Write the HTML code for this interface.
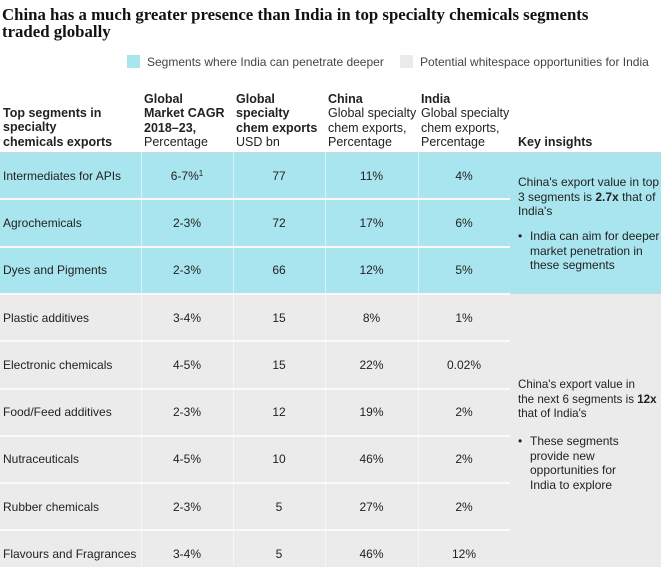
<!DOCTYPE html>
<html><head><meta charset="utf-8"><style>
body{margin:0;width:661px;height:566px;background:#fff;position:relative;overflow:hidden;font-family:"Liberation Sans",sans-serif;color:#222}
.a{position:absolute;white-space:nowrap}
.title{font-family:"Liberation Serif",serif;font-size:16.8px;font-weight:bold;line-height:17px;color:#111}
.hd{font-size:12.5px;line-height:14.3px}
.hd b{font-weight:bold}
.cell{font-size:12px;line-height:14px}
.ins{font-size:12px;line-height:14.6px;white-space:normal;width:138px}
sup{font-size:8px;line-height:0;vertical-align:4px}
</style></head><body>
<div class="a title" style="left:2px;top:6px">China has a much greater presence than India in top specialty chemicals segments<br>traded globally</div>
<div class="a" style="left:127px;top:55px;width:13px;height:13px;background:#a9e5ee"></div>
<div class="a cell" style="left:147px;top:55px;color:#444">Segments where India can penetrate deeper</div>
<div class="a" style="left:400px;top:55px;width:13px;height:13px;background:#ebebeb"></div>
<div class="a cell" style="left:420px;top:55px;color:#444">Potential whitespace opportunities for India</div>

<div class="a hd" style="left:3px;top:106px"><b>Top segments in<br>specialty<br>chemicals exports</b></div>
<div class="a hd" style="left:144px;top:92px"><b>Global<br>Market CAGR<br>2018–23,</b><br>Percentage</div>
<div class="a hd" style="left:236px;top:92px"><b>Global<br>specialty<br>chem exports</b><br>USD bn</div>
<div class="a hd" style="left:328px;top:92px"><b>China</b><br>Global specialty<br>chem exports,<br>Percentage</div>
<div class="a hd" style="left:421px;top:92px"><b>India</b><br>Global specialty<br>chem exports,<br>Percentage</div>
<div class="a hd" style="left:518px;top:135px"><b>Key insights</b></div>

<div class="a" style="left:0;top:152px;width:661px;height:141px;background:#a9e5ee;border-top:1px solid #c9d6d8"></div>
<div class="a" style="left:0;top:293px;width:661px;height:273px;background:#ebebeb;border-top:1px solid #cfd8da"></div>
<div id="tbl"></div>

<div class="a ins" style="left:518px;top:175px;width:143px">China's export value in top 3 segments is <b>2.7x</b> that of India's</div>
<div class="a ins" style="left:518px;top:229px;width:143px"><span style="position:absolute;left:0">•</span><div style="margin-left:12px">India can aim for deeper market penetration in these segments</div></div>
<div class="a ins" style="left:518px;top:378px;width:150px;white-space:nowrap;font-size:11.6px">China's export value in<br>the next 6 segments is <b>12x</b><br>that of India's</div>
<div class="a ins" style="left:518px;top:434px;width:143px"><span style="position:absolute;left:0">•</span><div style="margin-left:12px;width:104px">These segments provide new opportunities for India to explore</div></div>

<script>
const segments=["Intermediates for APIs","Agrochemicals","Dyes and Pigments","Plastic additives","Electronic chemicals","Food/Feed additives","Nutraceuticals","Rubber chemicals","Flavours and Fragrances"];
const cagr=["6-7%¹","2-3%","2-3%","3-4%","4-5%","2-3%","4-5%","2-3%","3-4%"];
const exportsBn=[77,72,66,15,15,12,10,5,5];
const chinaShare=["11%","17%","12%","8%","22%","19%","46%","27%","46%"];
const indiaShare=["4%","6%","5%","1%","0.02%","2%","2%","2%","12%"];
const tableTop=152,rh=47.3;
const colB=[0,141,233,325,418,510];
const names=['segment','cagr','exports','china','india'];
const t=document.getElementById('tbl');
for(let i=1;i<5;i++){const v=document.createElement('div');v.className='a';


v.style.cssText=`left:${colB[i]}px;top:${tableTop}px;width:1px;height:${566-tableTop}px;background:rgba(255,255,255,0.55)`;t.appendChild(v);}
segments.forEach((s,i)=>{
 const y=tableTop+i*rh;
 if(i>0){const l=document.createElement('div');l.className='a';
 
 
 l.style.cssText=`left:0;top:${y-1}px;width:510px;height:2px;background:#fafafa`;t.appendChild(l);}
 const vals=[s,cagr[i],String(exportsBn[i]),chinaShare[i],indiaShare[i]];
 vals.forEach((v,j)=>{const c=document.createElement('div');c.className='a cell';
 
 
 c.textContent=v;
 const cy=y+rh/2-7;
 if(j==0){c.style.left='3px';c.style.top=cy+'px';}
 else{c.style.left=colB[j]+'px';c.style.width=(colB[j+1]-colB[j])+'px';c.style.textAlign='center';c.style.top=cy+'px';}
 if(v.indexOf('¹')>=0){c.innerHTML=v.replace('¹','<sup>1</sup>');}
 t.appendChild(c);});
});
</script>
</body></html>
